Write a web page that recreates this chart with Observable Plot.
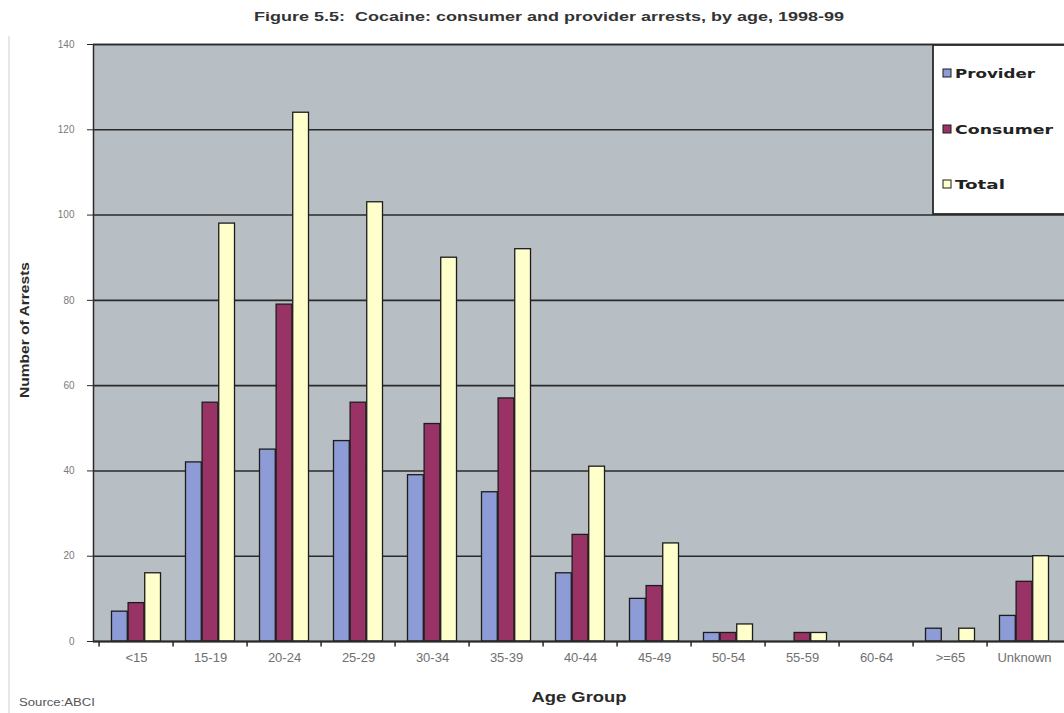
<!DOCTYPE html>
<html>
<head>
<meta charset="utf-8">
<script src="https://cdn.jsdelivr.net/npm/d3@7"></script>
<script src="https://cdn.jsdelivr.net/npm/@observablehq/plot@0.6"></script>
<style>
  html, body { margin: 0; padding: 0; background: #fff; }
  #chart svg { display: block; }
</style>
</head>
<body>
<div id="chart"></div>
<script>
// Cocaine arrests by age group, 1998-99
const ages = ["<15", "15-19", "20-24", "25-29", "30-34", "35-39", "40-44", "45-49", "50-54", "55-59", "60-64", ">=65", "Unknown"];
const provider = [7, 42, 45, 47, 39, 35, 16, 10, 2, 0, 0, 3, 6];
const consumer = [9, 56, 79, 56, 51, 57, 25, 13, 2, 2, 0, 0, 14];
const total = [16, 98, 124, 103, 90, 92, 41, 23, 4, 2, 0, 3, 20];
const seriesNames = ["Provider", "Consumer", "Total"];
const yTicks = [0, 20, 40, 60, 80, 100, 120, 140];

const colors = {Provider: "#8d9bd6", Consumer: "#993366", Total: "#ffffcc"};
const plotBg = "#b7bfc4";
const ink = "#2a2a2a";

const W = 1064, H = 713;
const margin = {top: 44, right: -2, bottom: 72, left: 93};
const bw = (W - margin.left - margin.right) / ages.length;
const barW = bw * 0.222;
const inset = (bw - barW) / 2;

const seriesValues = [provider, consumer, total];
const seriesRows = seriesValues.map((vals, s) =>
  ages.map((age, i) => ({age, series: seriesNames[s], value: vals[i]})).filter(d => d.value > 0)
);

const barMark = (rows, s) => Plot.barY(rows, {
  x: "age",
  y: "value",
  fill: colors[seriesNames[s]],
  stroke: "#1c1c1c",
  strokeWidth: 1.3,
  insetLeft: inset,
  insetRight: inset,
  dx: (s - 1) * barW
});

const chart = Plot.plot({
  width: W,
  height: H,
  marginTop: margin.top,
  marginRight: margin.right,
  marginBottom: margin.bottom,
  marginLeft: margin.left,
  style: {fontFamily: "'Liberation Sans', Arial, sans-serif", color: ink, background: "#fff", overflow: "visible"},
  x: {domain: ages, padding: 0, tickSize: 0, tickPadding: 11, label: null},
  y: {domain: [0, 140], ticks: yTicks, tickSize: 6, tickPadding: 13, label: null},
  marks: [
    Plot.frame({fill: plotBg, stroke: ink, strokeWidth: 1.5}),
    Plot.ruleY(yTicks.filter(v => v > 0), {stroke: ink, strokeWidth: 1.6}),
    ...seriesRows.map(barMark),
    Plot.ruleY([0], {stroke: ink, strokeWidth: 2}),
    // category separators below the axis line
    Plot.ruleX(ages, {x: d => d, y1: 0, y2: -1.3, dx: -bw / 2, stroke: ink, strokeWidth: 1.5})
  ]
});

const svg = d3.select(chart);
svg.selectAll('g[aria-label="y-axis tick label"]').attr("fill", "#7a7a7a").attr("font-size", 10);
svg.selectAll('g[aria-label="x-axis tick label"]').attr("fill", "#707070").attr("font-size", 13);

// outer chart border on the left
svg.append("line")
  .attr("x1", 9).attr("x2", 9).attr("y1", 36).attr("y2", H)
  .attr("stroke", "#cfcfcf").attr("stroke-width", 1);

// title
svg.append("text")
  .attr("x", 549).attr("y", 21)
  .attr("text-anchor", "middle")
  .attr("font-family", "'Liberation Sans', Arial, sans-serif")
  .attr("font-weight", "bold").attr("font-size", 13)
  .attr("fill", "#333")
  .attr("textLength", 590).attr("lengthAdjust", "spacingAndGlyphs")
  .text("Figure 5.5:  Cocaine: consumer and provider arrests, by age, 1998-99");

// axis titles
svg.append("text")
  .attr("transform", "translate(29,330) rotate(-90)")
  .attr("text-anchor", "middle")
  .attr("font-family", "'Liberation Sans', Arial, sans-serif")
  .attr("font-weight", "bold").attr("font-size", 13)
  .attr("fill", "#2a2a2a")
  .attr("textLength", 136).attr("lengthAdjust", "spacingAndGlyphs")
  .text("Number of Arrests");

svg.append("text")
  .attr("x", 579).attr("y", 702)
  .attr("text-anchor", "middle")
  .attr("font-family", "'Liberation Sans', Arial, sans-serif")
  .attr("font-weight", "bold").attr("font-size", 14)
  .attr("fill", "#2a2a2a")
  .attr("textLength", 95).attr("lengthAdjust", "spacingAndGlyphs")
  .text("Age Group");

svg.append("text")
  .attr("x", 19).attr("y", 706)
  .attr("text-anchor", "start")
  .attr("font-family", "'Liberation Sans', Arial, sans-serif")
  .attr("font-size", 10)
  .attr("fill", "#555")
  .attr("textLength", 76).attr("lengthAdjust", "spacingAndGlyphs")
  .text("Source:ABCI");

// legend
const legend = svg.append("g").attr("text-anchor", "start");
legend.append("rect")
  .attr("x", 933).attr("y", 45).attr("width", 140).attr("height", 169)
  .attr("fill", "#fff").attr("stroke", ink).attr("stroke-width", 1.8);
const legendY = [73, 129, 184];
const legendLen = {Provider: 80, Consumer: 98, Total: 50};
seriesNames.forEach((name, i) => {
  legend.append("rect")
    .attr("x", 943).attr("y", legendY[i] - 4).attr("width", 8).attr("height", 8)
    .attr("fill", colors[name]).attr("stroke", "#1c1c1c").attr("stroke-width", 1);
  legend.append("text")
    .attr("x", 955).attr("y", legendY[i] + 5)
    .attr("text-anchor", "start")
    .attr("font-family", "'DejaVu Sans', 'Liberation Sans', sans-serif")
    .attr("font-weight", "bold").attr("font-size", 12.5)
    .attr("fill", "#222")
    .attr("textLength", legendLen[name]).attr("lengthAdjust", "spacingAndGlyphs")
    .text(name);
});

document.getElementById("chart").appendChild(chart);
</script>
</body>
</html>
